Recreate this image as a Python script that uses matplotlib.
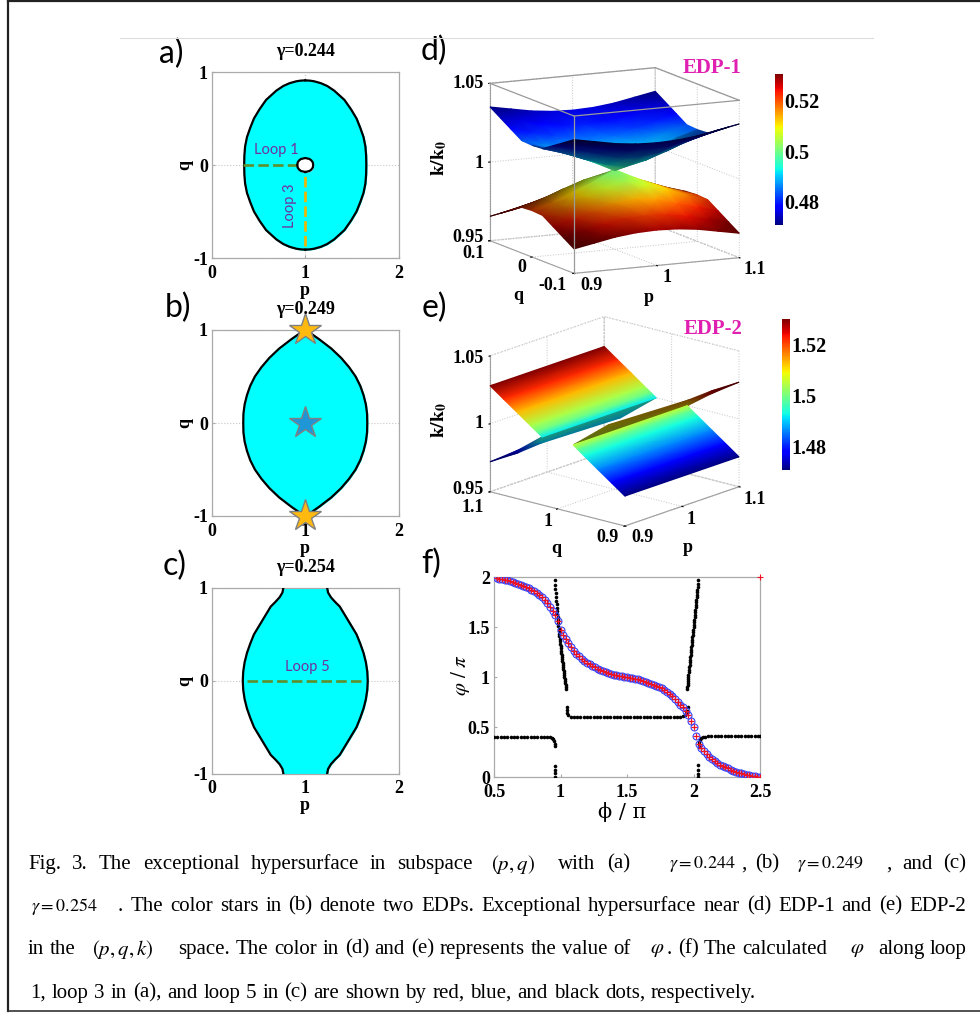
import numpy as np
import matplotlib
matplotlib.use('Agg')
import matplotlib.pyplot as plt
from matplotlib.cm import ScalarMappable
from matplotlib.colors import Normalize
from mpl_toolkits.mplot3d import proj3d

W, H = 980, 1013
SERIF = 'Liberation Serif'
plt.rcParams['font.family'] = SERIF
plt.rcParams['mathtext.fontset'] = 'stix'

# half widths of the exceptional surface around p = 1, read per q level
q_a = [0, .1, .2, .3, .4, .5, .6, .7, .8, .85, .88, .9, .907, .91]
w_a = [.655, .653, .645, .625, .59, .55, .49, .42, .31, .235, .167, .096, .05, 0]
q_hole = [0, .03, .05, .065, .075]
w_hole = [.086, .08, .065, .045, 0]
q_b = [0, .1, .2, .3, .4, .5, .6, .7, .8, .9, .97, 1.0]
w_b = [.665, .663, .65, .625, .59, .54, .47, .385, .28, .15, .05, 0]
q_c = [0, .1, .2, .3, .4, .5, .6, .7, .8, .85, .9, .95, 1.0]
w_c = [.67, .665, .65, .625, .59, .55, .49, .43, .37, .32, .275, .245, .235]

# panel d, one quadrant around the EDP, rows |q|, columns |p - 1|
off_d = [0, .025, .05, .075, .1]
dk_d = [[0, .0065, .012, .017, .021],
        [.005, .008, .0125, .0175, .0215],
        [.0135, .015, .019, .0225, .026],
        [.0215, .022, .0245, .0275, .0305],
        [.028, .0285, .030, .0325, .035]]
dphi_d = [[0, .006, .010, .013, .016],
          [.005, .008, .011, .014, .017],
          [.014, .015, .018, .020, .022],
          [.020, .021, .022, .024, .026],
          [.024, .0245, .026, .028, .030]]
dphi_lo_d = [[0, .005, .011, .016, .021],
             [.004, .007, .012, .017, .022],
             [.014, .015, .019, .023, .026],
             [.021, .022, .024, .027, .029],
             [.026, .027, .028, .029, .030]]
shade_under_q = [.32, .36, .42, .5, .65]
shade_top_q = [.9, .95, 1, 1, 1]
shade_lo_q = [.8, .9, 1, 1, 1]
shade_lo_p = [.6, .66, .76, .86, .95, 1, 1, .95, .8]

# panel e, the two flaps and the thin slivers along the fold
p_e = [.9, 1.1]
q_e_hi = [1.1, 1.08, 1.06, 1.04, 1.03, 1.023]
k_e_hi = [1.028, 1.0207, 1.0135, 1.0062, 1.0026, 1.0]
phi_e_hi = [1.53, 1.522, 1.513, 1.504, 1.499, 1.492]
q_e_lo = [.9, .92, .94, .96, .97, .9766]
k_e_lo = [.972, .9793, .9865, .9938, .9974, 1.0]
phi_e_lo = [1.47, 1.478, 1.486, 1.493, 1.499, 1.505]
sl1_p = [[.9, .922, .9, 1.1], [.9, .922, .941, 1.005]]
sl1_q = [[1.1, 1.078, 1.023, 1.023], [1.1, 1.078, 1.059, .995]]
sl1_k = [[.972, .980, 1.0, 1.0], [.972, .978, .985, 1.0025]]
sl1_phi = [[1.47, 1.478, 1.495, 1.495], [1.47, 1.476, 1.49, 1.49]]
sl2_p = [[1.1, 1.078, 1.1, .9], [1.1, 1.078, 1.059, .995]]
sl2_q = [[.9, .922, .9766, .9766], [.9, .922, .941, 1.005]]
sl2_k = [[1.027, 1.019, 1.0, 1.0], [1.027, 1.021, 1.0145, .9975]]
sl2_phi = [[1.53, 1.525, 1.51, 1.505], [1.53, 1.525, 1.515, 1.51]]

# panel f, loops 1 and 3 share the same values
phi_loop = np.arange(.52, 2.501, .02)
varphi_loop = [1.99, 1.985, 1.98, 1.975, 1.97, 1.96, 1.955, 1.945, 1.935, 1.925,
               1.915, 1.90, 1.89, 1.875, 1.86, 1.845, 1.825, 1.80, 1.77, 1.74,
               1.70, 1.665, 1.62, 1.56, 1.47, 1.42, 1.38, 1.34, 1.30, 1.265,
               1.235, 1.21, 1.185, 1.165, 1.145, 1.13, 1.115, 1.10, 1.085, 1.07,
               1.06, 1.05, 1.04, 1.03, 1.025, 1.02, 1.015, 1.01, 1.005, 1.00,
               .995, .99, .985, .98, .97, .96, .955, .945, .935, .925,
               .915, .905, .89, .875, .855, .835, .81, .785, .755, .725,
               .70, .66, .62, .565, .50, .41, .335, .295, .26, .23,
               .205, .18, .16, .145, .125, .11, .10, .09, .075, .065,
               .055, .045, .04, .03, .025, .02, .015, .01, .005, 0.0]
# loop 5, one pair of lists per stretch of black dots
x5_a = [.5, .525, .55, .575, .6, .625, .65, .675, .7, .725, .75, .775, .8, .825, .85, .875,
        .9, .92, .935, .945, .95, .955, .955, .955, .955, .955, .955]
y5_a = [.405] * 16 + [.402, .398, .39, .38, .36, .33, .31, .11, .07, .04, 0]
x5_b = [.958, .96, .962, .964, .966, .968, .97, .972, .974, .976, .978, .98, .982, .984, .986,
        .988, .99, .992, .994, .996, .998, 1.0, 1.002, 1.004, 1.006, 1.008, 1.01, 1.012, 1.014,
        1.016, 1.018, 1.02, 1.022, 1.024, 1.026, 1.028, 1.03, 1.032, 1.034, 1.036, 1.038, 1.04, 1.04]
y5_b = [1.967, 1.92, 1.88, 1.84, 1.8, 1.765, 1.73, 1.695, 1.66, 1.63, 1.6, 1.57, 1.54, 1.51, 1.485,
        1.46, 1.435, 1.41, 1.385, 1.36, 1.335, 1.31, 1.29, 1.265, 1.245, 1.22, 1.2, 1.18, 1.16,
        1.14, 1.12, 1.1, 1.08, 1.06, 1.04, 1.02, 1.0, .98, .96, .94, .92, .9, .883]
x5_c = [1.046, 1.046, 1.05, 1.06, 1.08, 1.1, 1.125, 1.15, 1.175, 1.2, 1.225, 1.25, 1.275, 1.3, 1.325,
        1.35, 1.375, 1.4, 1.425, 1.45, 1.475, 1.5, 1.525, 1.55, 1.575, 1.6, 1.625, 1.65, 1.675, 1.7,
        1.725, 1.75, 1.775, 1.8, 1.825, 1.85, 1.875, 1.9, 1.92, 1.935, 1.945, 1.95, 1.955]
y5_c = [.70, .67, .64, .617, .605] + [.6] * 32 + [.603, .61, .625, .64, .66, .70]
x5_d = [1.953, 1.954, 1.955, 1.956, 1.957, 1.958, 1.96, 1.962, 1.964, 1.966, 1.968, 1.97, 1.972,
        1.974, 1.976, 1.978, 1.98, 1.982, 1.984, 1.986, 1.988, 1.99, 1.992, 1.994, 1.996, 1.998,
        2.0, 2.002, 2.004, 2.006, 2.008, 2.01, 2.012, 2.014, 2.016, 2.018, 2.02, 2.022, 2.024,
        2.026, 2.028, 2.03, 2.032, 2.034, 2.035]
y5_d = [.883, .90, .92, .94, .96, .98, 1.0, 1.025, 1.05, 1.075, 1.1, 1.125, 1.15, 1.175, 1.2,
        1.225, 1.25, 1.275, 1.3, 1.325, 1.35, 1.375, 1.4, 1.425, 1.45, 1.475, 1.5, 1.525, 1.55,
        1.575, 1.6, 1.625, 1.65, 1.675, 1.7, 1.725, 1.75, 1.775, 1.8, 1.825, 1.85, 1.875, 1.9,
        1.93, 1.967]
x5_e = [2.035, 2.035, 2.035, 2.035, 2.04, 2.04, 2.045, 2.05, 2.06, 2.075, 2.09, 2.11, 2.135, 2.16,
        2.185, 2.21, 2.235, 2.26, 2.285, 2.31, 2.335, 2.36, 2.385, 2.41, 2.435, 2.46, 2.485, 2.5]
y5_e = [0, .03, .07, .12, .30, .33, .355, .375, .39, .4, .405] + [.41] * 17

fig = plt.figure(figsize=(W / 100, H / 100), dpi=100, facecolor='white')


def box(l, t, r, b, **kw):
    return fig.add_axes([l / W, 1 - b / H, (r - l) / W, (b - t) / H], **kw)


def label(x, y, s, **kw):
    kw.setdefault('ha', 'center')
    kw.setdefault('va', 'center')
    return fig.text(x / W, 1 - y / H, s, **kw)


def outline(q, w):
    q = np.array(q, float)
    w = np.array(w, float)
    qq = np.r_[-q[::-1], q[1:]]
    ww = np.r_[w[::-1], w[1:]]
    return qq, ww


def bold_ticks(ax, xpad, ypad, size=13):
    ax.tick_params(direction='in', length=2, color='#aaaaaa', labelsize=size)
    ax.tick_params(axis='x', pad=xpad)
    ax.tick_params(axis='y', pad=ypad)
    for t_ in ax.get_xticklabels() + ax.get_yticklabels():
        t_.set_fontweight('bold')
    for sp in ax.spines.values():
        sp.set_color('#aaaaaa')
        sp.set_linewidth(.9)


def pq_panel(l, t, r, b, q, w, title):
    ax = box(l, t, r, b)
    qq, ww = outline(q, w)
    ax.fill_betweenx(qq, 1 - ww, 1 + ww, color='#00ffff', zorder=2)
    ax.plot(1 - ww, qq, color='k', lw=1.6, zorder=3)
    ax.plot(1 + ww, qq, color='k', lw=1.6, zorder=3)
    ax.set_xlim(0, 2)
    ax.set_ylim(-1, 1)
    ax.set_xticks([0, 1, 2], ['0', '1', '2'])
    ax.set_yticks([-1, 0, 1], ['-1', '0', '1'])
    ax.grid(color='#c8c8c8', ls=':', lw=.8, zorder=0)
    bold_ticks(ax, 5, 3)
    label((l + r) / 2, b + 32, 'p', fontweight='bold', fontsize=13)
    label(l - 27, (t + b) / 2, 'q', fontweight='bold', fontsize=13, rotation=90)
    label((l + r) / 2, t - 20, title, fontweight='bold', fontsize=13)
    return ax


PURPLE = '#7030a0'
GREEN = '#5f8f2a'
GOLD = '#f2b400'
DASH = (0, (4, 1.6))

ax = pq_panel(212, 72, 398.5, 258, q_a, w_a, '\u03b3=0.244')
qq, ww = outline(q_hole, w_hole)
ax.fill_betweenx(qq, 1 - ww, 1 + ww, color='white', zorder=4)
ax.plot(np.r_[1 - ww, (1 + ww)[::-1]], np.r_[qq, qq[::-1]], color='k', lw=1.6, zorder=5)
ax.plot([.33, .92], [0, 0], color=GREEN, ls=DASH, lw=1.9, zorder=4)
ax.plot([1, 1], [-.87, -.08], color=GOLD, ls=DASH, lw=1.9, zorder=4)
ax.text(.69, .16, 'Loop 1', color=PURPLE, family='Lato', fontsize=10.5, ha='center', va='center', zorder=6)
ax.text(.84, -.44, 'Loop 3', color=PURPLE, family='Lato', fontsize=10.5, rotation=90, ha='center', va='center', zorder=6)

ax = pq_panel(212, 330, 398.5, 516, q_b, w_b, '\u03b3=0.249')
ax.plot([1, 1], [1, -1], ls='none', marker='*', ms=24, mfc='#ffb90f', mec='#808080', mew=1.0, clip_on=False, zorder=8)
ax.plot([1], [0], ls='none', marker='*', ms=24, mfc='#1f97d6', mec='#808080', mew=1.0, zorder=8)

ax = pq_panel(212, 588, 398.5, 773.5, q_c, w_c, '\u03b3=0.254')
ax.plot([.37, 1.63], [0, 0], color=GREEN, ls=DASH, lw=1.9, zorder=4)
ax.text(1.02, .15, 'Loop 5', color=PURPLE, family='Lato', fontsize=10.5, ha='center', va='center', zorder=6)

for s, x, y in [('a)', 171, 54), ('b)', 178, 308), ('c)', 175, 566), ('d)', 434, 51), ('e)', 434, 308), ('f)', 431, 564)]:
    label(x, y, s, family='Lato', fontsize=23)

# f
ax = box(494, 577, 760, 777)
for xs, ys in [(x5_a, y5_a), (x5_b, y5_b), (x5_c, y5_c), (x5_d, y5_d), (x5_e, y5_e)]:
    ax.plot(xs, ys, ls='none', marker='o', ms=2.6, color='k', mew=0, zorder=3)
ax.plot(phi_loop, varphi_loop, ls='none', marker='o', ms=5, mfc='none', mec='#3344ff', mew=.8, zorder=4)
ax.plot(phi_loop, varphi_loop, ls='none', marker='+', ms=4, color='#ee1122', mew=.9, zorder=5)
ax.plot([2.5], [2], ls='none', marker='+', ms=4, color='#ee1122', mew=.8, clip_on=False, zorder=5)
ax.set_xlim(.5, 2.5)
ax.set_ylim(0, 2)
ax.set_xticks([.5, 1, 1.5, 2, 2.5], ['0.5', '1', '1.5', '2', '2.5'])
ax.set_yticks([0, .5, 1, 1.5, 2], ['0', '0.5', '1', '1.5', '2'])
bold_ticks(ax, 5, 3)
label(622, 812, '\u03d5 / \u03c0', family='DejaVu Serif', fontsize=15)
label(460, 675, r'$\varphi\ /\ \pi$', fontsize=15, rotation=90)


def to_px(ax, p, q, k):
    x2, y2, _ = proj3d.proj_transform(np.ravel(p), np.ravel(q), np.ravel(k), ax.get_proj())
    return ax.transData.transform(np.c_[x2, y2])


# 3d panels
def frame3d(p_lim, q_lim, elev, azim, aspect, a_target, b_target, pticks, qticks):
    ax = box(480, 60, 780, 60 + 300, projection='3d', proj_type='ortho', facecolor='none')
    ax.set_xlim(*p_lim, view_margin=0)
    ax.set_ylim(*q_lim, view_margin=0)
    ax.set_zlim(.95, 1.05, view_margin=0)
    ax.view_init(elev=elev, azim=azim)
    ax.set_xticks(pticks, [''] * 3)
    ax.set_yticks(qticks, [''] * 3)
    ax.set_zticks([.95, 1, 1.05], [''] * 3)
    ax.zaxis.set_ticks_position('upper')
    for a in (ax.xaxis, ax.yaxis, ax.zaxis):
        a.pane.set_facecolor('none')
        a.pane.set_edgecolor('#b8b8b8')
        a.pane.set_linestyle(':')
        a.line.set_color('#a0a0a0')
        a.line.set_linewidth(.8)
        a._axinfo['grid'].update(color='#c4c4c4', linestyle=':', linewidth=.7)
        a._axinfo['tick'].update(inward_factor=.1, outward_factor=0)
    # fit the box to the corners in the picture
    zoom = 1.0
    for _ in range(3):
        ax.set_box_aspect(aspect, zoom=zoom)
        fig.canvas.draw()
        pa = to_px(ax, a_target[0], a_target[1], a_target[2])[0]
        pb = to_px(ax, b_target[0], b_target[1], b_target[2])[0]
        zoom *= np.hypot(*(np.array(b_target[3:]) - a_target[3:])) / np.hypot(*(pb - pa))
    ax.set_box_aspect(aspect, zoom=zoom)
    fig.canvas.draw()
    pa = to_px(ax, a_target[0], a_target[1], a_target[2])[0]
    pos = ax.get_position()
    dx = (a_target[3] - pa[0]) / W
    dy = ((H - a_target[4]) - pa[1]) / H
    ax.set_position([pos.x0 + dx, pos.y0 + dy, pos.width, pos.height])
    fig.canvas.draw()
    return ax


def sheet(ov, ax, p, q, k, phi, norm, shade=1.0):
    # painter's order, far rows first, as the mesh is drawn flat in pixels
    p, q, k, phi = [np.asarray(v, float) for v in (p, q, k, phi)]
    px = to_px(ax, p, q, k).reshape(*p.shape, 2)
    rgba = plt.cm.jet(norm(phi))
    rgba[..., :3] *= np.asarray(shade, float)[..., None] if np.ndim(shade) else shade
    ov.pcolormesh(px[..., 0], px[..., 1], rgba, shading='gouraud')


ov = fig.add_axes([0, 0, 1, 1], facecolor='none', zorder=10)
ov.set_xlim(0, W)
ov.set_ylim(0, H)
ov.axis('off')

# corner targets are the box corners in picture pixels
d3 = frame3d((.9, 1.1), (-.1, .1), 11.07, -116.3, (553, 569, 481),
             (.9, .1, .95, 490, 240.7), (1.1, -.1, 1.05, 739.5, 100.7),
             [.9, 1, 1.1], [-.1, 0, .1])
e3 = frame3d((.9, 1.1), (.9, 1.1), 17.2, -139.3, (526, 534, 427),
             (.9, 1.1, .95, 490, 491.7), (1.1, .9, 1.05, 739.5, 351.7),
             [.9, 1, 1.1], [.9, 1, 1.1])


def unfold(quad):
    quad = np.array(quad, float)
    quad = np.c_[quad[:, :0:-1], quad]
    return np.r_[quad[:0:-1], quad]


off = np.r_[-np.array(off_d)[:0:-1], off_d]
Pd, Qd = np.meshgrid(1 + off, off)
dk = unfold(dk_d)
k_up, k_lo = 1 + dk, 1 - dk + .0005
ph_up, ph_lo = .5 - unfold(dphi_d), .5 + unfold(dphi_lo_d)
nd = Normalize(.4708, .5306)
far = (slice(None, None, -1), slice(None, None, -1))

shade_lo = np.outer(np.r_[shade_lo_q, [.6] * 4], shade_lo_p)
shade_top = np.tile(np.array(shade_top_q)[:, None], (1, 9))
shade_under = np.tile(np.array(shade_under_q)[:, None], (1, 9))
sheet(ov, d3, Pd[far], Qd[far], k_lo[far], ph_lo[far], nd, shade_lo[far])
sheet(ov, d3, Pd[4:][far], Qd[4:][far], k_up[4:][far], ph_up[4:][far], nd, shade_top[far])
sheet(ov, d3, Pd[:5][far], Qd[:5][far], k_up[:5][far], ph_up[:5][far], nd, shade_under[far])
# box edges of d that the surface does not hide
edges = [((.9, .1, 1.05), (.9, -.1, 1.05)), ((.9, -.1, 1.05), (1.1, -.1, 1.05)),
         ((.9, .1, 1.05), (1.1, .1, 1.05)), ((1.1, .1, 1.05), (1.1, -.1, 1.05)),
         ((.9, -.1, .95), (.9, -.1, 1.05))]
for a, b in edges:
    pts = to_px(d3, *np.array([a, b]).T)
    ov.plot(pts[:, 0], pts[:, 1], color='#9a9a9a', lw=.9)

ne = Normalize(1.4708, 1.530)
Pe, Qe = np.meshgrid(p_e, q_e_hi)
ke = np.tile(np.array(k_e_hi)[:, None], (1, 2))
fe = np.tile(np.array(phi_e_hi)[:, None], (1, 2))
sheet(ov, e3, sl1_p, sl1_q, sl1_k, sl1_phi, ne, .6)
sheet(ov, e3, Pe, Qe, ke, fe, ne)
Pe, Qe = np.meshgrid(p_e, q_e_lo)
ke = np.tile(np.array(k_e_lo)[:, None], (1, 2))
fe = np.tile(np.array(phi_e_lo)[:, None], (1, 2))
sheet(ov, e3, sl2_p, sl2_q, sl2_k, sl2_phi, ne, .45)
sheet(ov, e3, Pe[::-1], Qe[::-1], ke[::-1], fe[::-1], ne)
ov.set_xlim(0, W)
ov.set_ylim(0, H)

# tick labels of the 3d boxes, as MATLAB placed them
tick3d = [('1.05', 484, 83, 'right'), ('1', 484, 163, 'right'), ('0.95', 484, 238, 'right'),
          ('0.1', 473, 254, 'center'), ('0', 522, 268, 'center'), ('-0.1', 552, 285, 'center'),
          ('0.9', 591, 286, 'center'), ('1', 667, 277, 'center'), ('1.1', 755, 270, 'center'),
          ('1.05', 484, 358, 'right'), ('1', 484, 424, 'right'), ('0.95', 484, 490, 'right'),
          ('1.1', 473, 507, 'center'), ('1', 548, 522, 'center'), ('0.9', 607, 538, 'center'),
          ('0.9', 642, 538, 'center'), ('1', 691, 519, 'center'), ('1.1', 755, 499, 'center')]
for s, x, y, ha in tick3d:
    label(x, y, s, ha=ha, fontweight='bold', fontsize=13)

k_lab = r'$\mathbf{k/k_0}$'
label(518, 295, 'q', fontweight='bold', fontsize=13)
label(649, 298, 'p', fontweight='bold', fontsize=13)
label(439, 158, k_lab, fontsize=14, rotation=90)
label(556, 548, 'q', fontweight='bold', fontsize=13)
label(688, 547, 'p', fontweight='bold', fontsize=13)
label(439, 420, k_lab, fontsize=14, rotation=90)
label(712, 68, 'EDP-1', color='#e020b0', fontweight='bold', fontsize=15)
label(713, 329, 'EDP-2', color='#e020b0', fontweight='bold', fontsize=15)


def cbar(l, t, r, b, norm, ticks):
    cax = box(l, t, r, b)
    cb = fig.colorbar(ScalarMappable(norm, 'jet'), cax=cax)
    cb.set_ticks(ticks, labels=[str(v) for v in ticks])
    cb.outline.set_visible(False)
    cax.tick_params(length=0, labelsize=14.5, pad=1)
    for t_ in cax.get_yticklabels():
        t_.set_fontweight('bold')


cbar(775, 74, 783, 225, nd, [.48, .5, .52])
cbar(782, 319, 789.5, 470, ne, [1.48, 1.5, 1.52])

# caption, words spread to the reference line ends
renderer = fig.canvas.get_renderer()


def justify(s, x0, x1, y, size=15):
    words = s.split()
    items = [label(x0, y, w, ha='left', fontsize=size) for w in words]
    sizes = [it.get_window_extent(renderer).width for it in items]
    gap = (x1 - x0 - sum(sizes)) / max(len(words) - 1, 1)
    x = x0
    for it, sz in zip(items, sizes):
        it.set_x(x / W)
        x += sz + gap


rows = [
    ('Fig. 3. The exceptional hypersurface in subspace', 28, 473, 864),
    ('$(p,q)$', 491, 535, 864),
    ('with (a)', 558, 630, 864),
    ('$\\gamma=0.244$', 669, 732, 864, 13),
    (', (b)', 741, 779, 864),
    ('$\\gamma=0.249$', 797, 862, 864, 13),
    (', and (c)', 886, 966, 864),
    ('$\\gamma=0.254$', 31, 100, 906, 13),
    ('. The color stars in (b) denote two EDPs. Exceptional hypersurface near (d) EDP-1 and (e) EDP-2', 118, 966, 906),
    ('in the', 28, 76, 949),
    ('$(p,q,k)$', 92, 162, 949),
    ('space. The color in (d) and (e) represents the value of', 178, 631, 949),
    ('$\\varphi$', 650, 660, 949),
    ('. (f) The calculated', 667, 827, 949),
    ('$\\varphi$', 850, 860, 949),
    ('along loop', 878, 966, 949),
    ('1, loop 3 in (a), and loop 5 in (c) are shown by red, blue, and black dots, respectively.', 30, 756, 993),
]
for row in rows:
    justify(*row)

# page frame and the thin rule at the top
ov.plot([8, 8], [H - 1, H - 1011], color='#222222', lw=1.6, clip_on=False)
ov.plot([8, W], [H - 1, H - 1], color='#222222', lw=1.6, clip_on=False)
ov.plot([8, W], [H - 1011, H - 1011], color='#333333', lw=1.2, clip_on=False)
ov.plot([120, 873], [H - 38, H - 38], color='#dddddd', lw=.8)

fig.savefig('out.png', dpi=100)
